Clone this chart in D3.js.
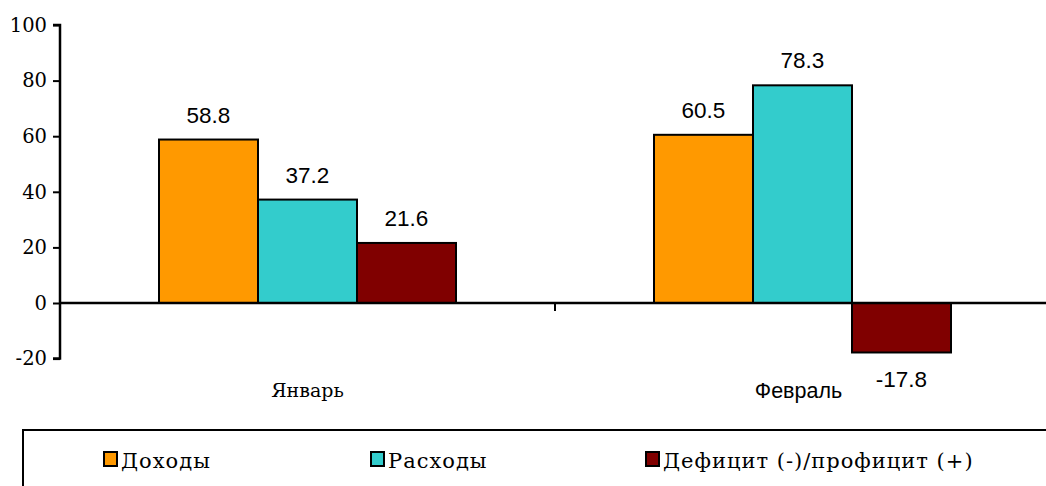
<!DOCTYPE html>
<html><head><meta charset="utf-8">
<script src="https://cdn.jsdelivr.net/npm/d3@7"></script>
<style>
body{margin:0;background:#fff}
svg{display:block}
svg text.sf{font-family:"DejaVu Serif",serif !important}
svg text.ss{font-family:"Liberation Sans",Arial,sans-serif !important}
</style>
</head><body>
<svg id="c" width="1046" height="486"></svg>
<script>
const categories = ["Январь", "Февраль"];
const seriesNames = ["Доходы", "Расходы", "Дефицит (-)/профицит (+)"];
const seriesColors = ["#FF9900", "#33CCCC", "#800000"];
const income = [58.8, 60.5];
const expense = [37.2, 78.3];
const balance = [21.6, -17.8];
const yTicks = [-20, 0, 20, 40, 60, 80, 100];

(function () {
const series = [income, expense, balance];
const svg = d3.select("#c");
const left = 60, right = 1050, plotTop = 25, plotBottom = 358.6;
const y = d3.scaleLinear().domain([-20, 100]).range([plotBottom, plotTop]);
const x0 = d3.scaleBand().domain(categories).range([left, right]).paddingInner(0).paddingOuter(0);
const groupW = x0.bandwidth() * 0.6;
const x1 = d3.scaleBand().domain(d3.range(3)).range([0, groupW]);

// bars
categories.forEach((c, ci) => {
  const gx = x0(c) + (x0.bandwidth() - groupW) / 2;
  series.forEach((s, si) => {
    const v = s[ci];
    svg.append("rect")
      .attr("x", gx + x1(si)).attr("width", x1.bandwidth())
      .attr("y", y(Math.max(0, v))).attr("height", Math.abs(y(v) - y(0)))
      .attr("fill", seriesColors[si]).attr("stroke", "#000").attr("stroke-width", 2);
    svg.append("text").attr("class", "ss")
      .attr("x", gx + x1(si) + x1.bandwidth() / 2)
      .attr("y", v >= 0 ? y(v) - 17 : y(v) + 35)
      .attr("text-anchor", "middle")
      .attr("font-size", 22.5)
      .text(v.toFixed(1));
  });
});

// y axis
const yAxis = svg.append("g").attr("transform", `translate(${left},0)`)
  .call(d3.axisLeft(y).tickValues(yTicks).tickSize(7).tickPadding(6).tickFormat(d => String(d)));
yAxis.attr("font-family", null);
yAxis.select(".domain").attr("stroke", "#000").attr("stroke-width", 2.5).attr("d", `M-7,${plotTop}H0V${plotBottom}H-7`);
yAxis.selectAll(".tick line").attr("stroke", "#000").attr("stroke-width", 2);
yAxis.selectAll(".tick text").attr("class", "sf").attr("font-size", 19.5).attr("fill", "#000");

// x axis at zero
svg.append("line").attr("x1", left).attr("x2", right).attr("y1", y(0)).attr("y2", y(0))
  .attr("stroke", "#000").attr("stroke-width", 2.5);
svg.append("line").attr("x1", x0(categories[1])).attr("x2", x0(categories[1]))
  .attr("y1", y(0)).attr("y2", y(0) + 8).attr("stroke", "#000").attr("stroke-width", 2);

// category labels
svg.append("text").attr("class", "sf").attr("x", x0(categories[0]) + x0.bandwidth() / 2).attr("y", 397)
  .attr("text-anchor", "middle").attr("font-size", 19)
  .text(categories[0]);
svg.append("text").attr("class", "ss").attr("x", x0(categories[1]) + x0.bandwidth() / 2 - 4).attr("y", 398)
  .attr("text-anchor", "middle").attr("font-size", 21.5)
  .text(categories[1]);

// legend
svg.append("rect").attr("x", 23).attr("y", 430).attr("width", 1040).attr("height", 80)
  .attr("fill", "#fff").attr("stroke", "#000").attr("stroke-width", 2);
const legX = [104, 371, 646];
seriesNames.forEach((n, i) => {
  svg.append("rect").attr("x", legX[i]).attr("y", 452).attr("width", 13).attr("height", 14)
    .attr("fill", seriesColors[i]).attr("stroke", "#000").attr("stroke-width", 2);
  svg.append("text").attr("class", "sf").attr("x", legX[i] + 17).attr("y", 468)
    .attr("font-size", 21).attr("letter-spacing", 1).text(n);
});
})();
</script>
</body></html>
